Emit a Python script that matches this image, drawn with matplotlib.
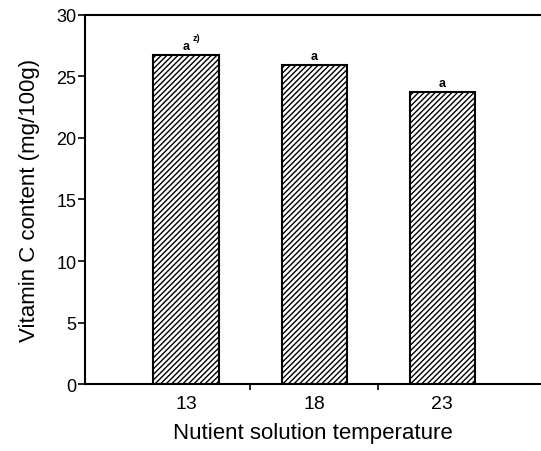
import matplotlib.pyplot as plt
import numpy as np

plt.rcParams['font.family'] = ['Liberation Sans', 'DejaVu Sans']
plt.rcParams['hatch.linewidth'] = 1.0

temps = ['13', '18', '23']
vitc = [26.7, 25.9, 23.7]
letters = ['a', 'a', 'a']

fig = plt.figure(figsize=(5.41, 4.52), dpi=100)
ax = fig.add_axes([0.157, 0.148, 0.843, 0.817])

x = np.arange(len(temps))
ax.bar(x, vitc, width=0.51, color='white', edgecolor='black', linewidth=1.5, hatch='//////')

for i in range(len(x)):
    ax.text(x[i], vitc[i] + 0.3, letters[i], ha='center', va='bottom', fontsize=9, fontweight='bold')
# footnote mark on the first letter
ax.text(x[0] + 0.05, vitc[0] + 1.1, 'z)', ha='left', va='bottom', fontsize=6.5, fontweight='bold')

ax.set_xlim(-0.79, 2.77)
ax.set_ylim(0, 30)
ax.set_yticks(range(0, 31, 5))
ax.set_xticks(x)
ax.set_xticklabels(temps)
ax.set_xticks([0.5, 1.5], minor=True)
ax.tick_params(axis='x', which='major', length=0, labelsize=14, pad=8)
ax.tick_params(axis='x', which='minor', length=4, width=1.2, direction='out')
ax.tick_params(axis='y', length=5, width=1.2, labelsize=13, pad=1)

for s in ['left', 'bottom', 'top']:
    ax.spines[s].set_linewidth(1.5)
ax.spines['right'].set_visible(False)

ax.set_xlabel('Nutient solution temperature', fontsize=16, labelpad=7)
ax.set_ylabel('Vitamin C content (mg/100g)', fontsize=16, labelpad=12)

fig.savefig('out.png', dpi=100)
